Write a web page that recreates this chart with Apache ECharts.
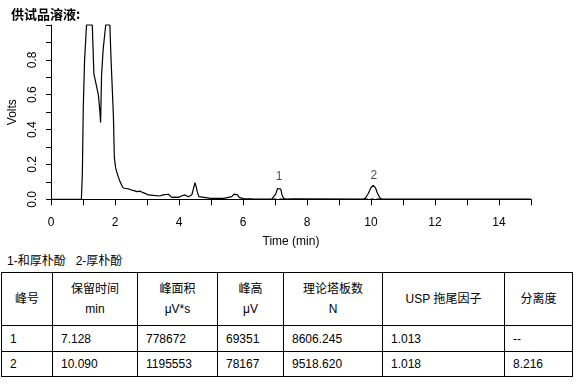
<!DOCTYPE html>
<html>
<head>
<meta charset="utf-8">
<script src="https://cdn.jsdelivr.net/npm/echarts@6/dist/echarts.min.js"></script>
<style>
  html, body { margin: 0; padding: 0; background: #fff; }
  #wrap { position: relative; width: 582px; height: 386px; overflow: hidden; }
  #chart { position: absolute; left: 0; top: 0; width: 582px; height: 250px; }
  #legendText { position: absolute; left: 7px; top: 251px; font: 12px "Liberation Sans", "Noto Sans CJK SC", sans-serif; color: #000; white-space: pre; }
  table { position: absolute; left: 1px; top: 272px; border-collapse: collapse; table-layout: fixed;
          font: 12px "Liberation Sans", "Noto Sans CJK SC", sans-serif; color: #000; }
  td, th { border: 1px solid #000; padding: 0 0 0 8px; text-align: left; font-weight: normal; white-space: nowrap; overflow: hidden; }
  th { text-align: center; padding: 0; line-height: 20px; }
  tr.h { height: 53px; }
  tr.r1 { height: 26px; }
  tr.r2 { height: 25px; }
</style>
</head>
<body>
<div id="wrap">
  <div id="chart"></div>
  <div id="legendText"></div>
  <table id="tbl"></table>
</div>
<script>
// ---- data ----
const titleText = '供试品溶液:';
const times = [0, 0.5, 0.95, 0.98, 1.01, 1.05, 1.11, 1.29, 1.34, 1.48, 1.53, 1.55, 1.58, 1.63, 1.71, 1.84, 1.875, 1.95, 1.98, 2.02, 2.05, 2.10, 2.16, 2.21, 2.26, 2.35, 2.45, 2.52, 2.60, 2.68, 2.73, 2.78, 2.85, 2.94, 3.04, 3.2, 3.4, 3.5, 3.56, 3.67, 3.77, 3.9, 3.98, 4.08, 4.19, 4.29, 4.4, 4.45, 4.5, 4.54, 4.57, 4.62, 4.66, 5.0, 5.4, 5.65, 5.72, 5.78, 5.83, 5.88, 6.01, 6.3, 6.9, 6.95, 7.02, 7.08, 7.13, 7.18, 7.22, 7.27, 7.35, 7.52, 7.6, 7.65, 9.75, 9.82, 9.92, 10.0, 10.07, 10.14, 10.2, 10.28, 10.35, 15];
const volts = [0, 0, 0, 0.15, 0.54, 0.8, 1.0, 1.0, 0.72, 0.60, 0.50, 0.44, 0.71, 0.86, 1.0, 1.0, 0.81, 0.48, 0.24, 0.18, 0.16, 0.13, 0.10, 0.08, 0.065, 0.062, 0.058, 0.053, 0.05, 0.044, 0.048, 0.047, 0.04, 0.034, 0.025, 0.022, 0.019, 0.025, 0.034, 0.029, 0.011, 0.012, 0.011, 0.019, 0.025, 0.015, 0.025, 0.06, 0.095, 0.07, 0.044, 0.015, 0.006, 0.005, 0.005, 0.015, 0.03, 0.038, 0.025, 0.011, 0.004, 0.002, 0.001, 0.004, 0.03, 0.062, 0.072, 0.058, 0.025, 0.005, 0.001, 0.003, 0.003, 0.001, 0.001, 0.006, 0.035, 0.068, 0.08, 0.066, 0.035, 0.008, 0.001, 0.001];
const peakNames = ['1', '2'];
const peakTimes = [7.128, 10.090];
const peakHeights = [0.072, 0.080];
const peakStarts = [6.95, 9.80];
const peakEnds = [7.30, 10.35];
const xTickLabels = ['0', '2', '4', '6', '8', '10', '12', '14'];
const yTickLabels = ['0.0', '0.2', '0.4', '0.6', '0.8'];
const legendLine = '1-和厚朴酚   2-厚朴酚';
const headerRow = ['峰号', '保留时间<br>min', '峰面积<br>μV*s', '峰高<br>μV', '理论塔板数<br>N', 'USP 拖尾因子', '分离度'];
const peakNo = ['1', '2'];
const retTime = ['7.128', '10.090'];
const areas = ['778672', '1195553'];
const heights = ['69351', '78167'];
const plates = ['8606.245', '9518.620'];
const tailing = ['1.013', '1.018'];
const resolution = ['--', '8.216'];
const colWidths = [51, 85, 80, 66, 99, 122, 68];

// ---- build chart ----
const traceData = times.map((t, i) => [t, volts[i]]);
const labelData = peakTimes.map((t, i) => ({ value: [t, peakHeights[i]], name: peakNames[i] }));
const baseSeries = peakStarts.map((s, i) => ({
  type: 'line', data: [[s, 0.002], [peakEnds[i], 0.002]], showSymbol: false, silent: true,
  lineStyle: { color: '#000', width: 1, type: [3, 3] }, clip: false, z: 1
}));

const chart = echarts.init(document.getElementById('chart'), null, { renderer: 'canvas' });
const font = '"Liberation Sans", Arial, sans-serif';
chart.setOption({
  animation: false,
  textStyle: { fontFamily: font },
  title: { text: titleText, left: 6, top: 3, textStyle: { fontSize: 13, fontWeight: 'bold', color: '#000', fontFamily: '"Noto Sans CJK SC", sans-serif' } },
  grid: { left: 51, right: 51, top: 25, height: 174.3, containLabel: false, outerBoundsMode: 'none' },
  xAxis: {
    type: 'value', min: 0, max: 15, interval: 1, offset: 6,
    name: 'Time (min)', nameLocation: 'middle', nameGap: 30,
    nameTextStyle: { fontSize: 12, color: '#000', fontFamily: font },
    axisLine: { show: true, lineStyle: { color: '#000', width: 1 } },
    axisTick: { show: true, length: 6, lineStyle: { color: '#000' } },
    axisLabel: { fontSize: 12, color: '#000', margin: 11, fontFamily: font,
      formatter: v => { const s = String(Math.round(v)); return xTickLabels.includes(s) ? s : ''; } },
    splitLine: { show: false }
  },
  yAxis: {
    type: 'value', min: 0, max: 1, interval: 0.1,
    name: 'Volts', nameLocation: 'middle', nameGap: 29, nameRotate: 90,
    nameTextStyle: { fontSize: 12, color: '#000', fontFamily: font },
    axisLine: { show: true, lineStyle: { color: '#000', width: 1 } },
    axisTick: { show: true, length: 5, lineStyle: { color: '#000' } },
    axisLabel: { fontSize: 12, color: '#000', rotate: 90, margin: 12, fontFamily: font,
      formatter: v => { const s = v.toFixed(1); return yTickLabels.includes(s) ? s : ''; } },
    splitLine: { show: false }
  },
  series: [
    { type: 'line', data: traceData, showSymbol: false, clip: false, z: 3,
      lineStyle: { color: '#000', width: 1.2 } },
    ...baseSeries,
    { type: 'scatter', data: labelData, symbolSize: 0, z: 4,
      label: { show: true, position: 'top', distance: 4, formatter: p => p.name, fontSize: 12, color: '#1a1a4a', fontFamily: font } }
  ]
});

// ---- legend line and table ----
document.getElementById('legendText').textContent = legendLine;
const tbl = document.getElementById('tbl');
let html = '<colgroup>' + colWidths.map(w => `<col style="width:${w}px">`).join('') + '</colgroup>';
html += '<tr class="h">' + headerRow.map(h => `<th>${h}</th>`).join('') + '</tr>';
for (let i = 0; i < peakNo.length; i++) {
  const cells = [peakNo[i], retTime[i], areas[i], heights[i], plates[i], tailing[i], resolution[i]];
  html += `<tr class="r${i + 1}">` + cells.map(c => `<td>${c}</td>`).join('') + '</tr>';
}
tbl.innerHTML = html;
</script>
</body>
</html>
